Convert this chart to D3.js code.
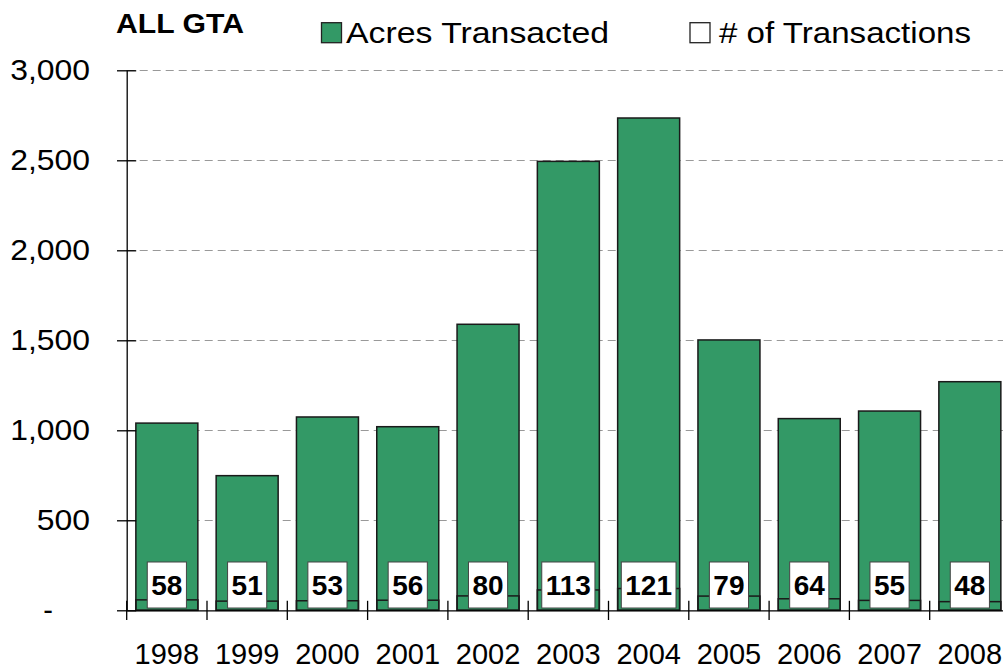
<!DOCTYPE html>
<html>
<head>
<meta charset="utf-8">
<script src="https://cdn.jsdelivr.net/npm/d3@7"></script>
<style>
  body { margin: 0; background: #fff; }
  svg { display: block; font-family: "Liberation Sans", Arial, sans-serif; }
</style>
</head>
<body>
<script>
var w = 1003;
var h = 669;

var years = ["1998", "1999", "2000", "2001", "2002", "2003", "2004", "2005", "2006", "2007", "2008"];
var acres = [1040, 748, 1074, 1020, 1589, 2494, 2735, 1502, 1065, 1107, 1270];
var transactions = [58, 51, 53, 56, 80, 113, 121, 79, 64, 55, 48];
var yTicks = [0, 500, 1000, 1500, 2000, 2500, 3000];

var green = "#339966";
var plotLeft = 126.7, plotRight = 1010, plotTop = 70.3, plotBottom = 610.3;

var dataset = years.map((d, i) => ({ year: d, acres: acres[i], count: transactions[i] }));

var xScale = d3.scaleBand()
    .domain(years)
    .range([plotLeft, plotRight])
    .paddingInner(0.228)
    .paddingOuter(0.114);

var yScale = d3.scaleLinear()
    .domain([0, 3000])
    .range([plotBottom, plotTop]);

var fmt = d3.format(",");

var svg = d3.select("body")
    .append("svg")
    .attr("width", w)
    .attr("height", h);

// gridlines
svg.selectAll("line.grid")
    .data(yTicks.filter(d => d > 0))
    .enter()
    .append("line")
    .attr("class", "grid")
    .attr("x1", plotLeft)
    .attr("x2", w)
    .attr("y1", d => Math.round(yScale(d)) + 0.5)
    .attr("y2", d => Math.round(yScale(d)) + 0.5)
    .attr("stroke", "#999")
    .attr("stroke-width", 1.2)
    .attr("stroke-dasharray", "8,5");

// acres bars
svg.selectAll("rect.acres")
    .data(dataset)
    .enter()
    .append("rect")
    .attr("class", "acres")
    .attr("x", d => xScale(d.year))
    .attr("y", d => yScale(d.acres))
    .attr("width", xScale.bandwidth())
    .attr("height", d => plotBottom - yScale(d.acres))
    .attr("fill", green)
    .attr("stroke", "#1a1a1a")
    .attr("stroke-width", 1.5);

// transactions bars (same scale, tiny)
svg.selectAll("rect.count")
    .data(dataset)
    .enter()
    .append("rect")
    .attr("class", "count")
    .attr("x", d => xScale(d.year))
    .attr("y", d => yScale(d.count))
    .attr("width", xScale.bandwidth())
    .attr("height", d => plotBottom - yScale(d.count))
    .attr("fill", "none")
    .attr("stroke", "#1a1a1a")
    .attr("stroke-width", 1.5);

// labels in white boxes
var labels = svg.selectAll("g.lab")
    .data(dataset)
    .enter()
    .append("g")
    .attr("class", "lab")
    .attr("transform", d => `translate(${xScale(d.year) + xScale.bandwidth() / 2},0)`);

labels.append("rect")
    .attr("y", 562)
    .attr("height", 46)
    .attr("fill", "#fff")
    .attr("stroke", "#444")
    .attr("stroke-width", 1);

labels.append("text")
    .attr("y", 595)
    .attr("text-anchor", "middle")
    .attr("font-size", "28px")
    .attr("font-weight", "bold")
    .attr("fill", "#000")
    .text(d => d.count);

labels.each(function() {
    var g = d3.select(this);
    var tw = g.select("text").node().getComputedTextLength() + 8;
    g.select("rect").attr("x", -tw / 2).attr("width", tw);
});

// y axis
var yAxis = d3.axisLeft()
    .scale(yScale)
    .tickValues(yTicks)
    .tickSize(9.7)
    .tickSizeOuter(0)
    .tickPadding(27)
    .tickFormat(d => d === 0 ? "-" : fmt(d));

var gy = svg.append("g")
    .attr("transform", `translate(${plotLeft},0)`)
    .call(yAxis);
gy.selectAll(".tick line").attr("x1", 9.5).attr("stroke", "#000").attr("stroke-width", 1.3);
gy.select(".domain").attr("stroke", "#000").attr("stroke-width", 1.3);
gy.selectAll(".tick text")
    .attr("font-size", "29px")
    .attr("font-family", "Liberation Sans, Arial, sans-serif")
    .attr("fill", "#000");
gy.selectAll(".tick text").filter(d => d === 0).attr("x", 53 - plotLeft);
gy.selectAll(".tick text").filter(d => d > 0).each(function() {
    var len = this.getComputedTextLength();
    d3.select(this)
        .attr("textLength", len * 1.1)
        .attr("lengthAdjust", "spacingAndGlyphs");
});

// x axis
var xAxis = d3.axisBottom()
    .scale(xScale)
    .tickSize(0)
    .tickSizeOuter(0)
    .tickPadding(33);

var gx = svg.append("g")
    .attr("transform", `translate(0,${plotBottom})`)
    .call(xAxis);
gx.select(".domain").attr("stroke", "#000").attr("stroke-width", 1.3);
gx.selectAll(".tick text")
    .attr("font-size", "29px")
    .attr("font-family", "Liberation Sans, Arial, sans-serif")
    .attr("fill", "#000");

// category boundary ticks
var step = xScale.step();
var bounds = years.map(d => xScale(d) - (step - xScale.bandwidth()) / 2);
bounds.push(bounds[bounds.length - 1] + step);
gx.selectAll("line.bound")
    .data(bounds)
    .enter()
    .append("line")
    .attr("class", "bound")
    .attr("x1", d => d)
    .attr("x2", d => d)
    .attr("y1", -9.5)
    .attr("y2", 9.7)
    .attr("stroke", "#000")
    .attr("stroke-width", 1.3);

// title
svg.append("text")
    .attr("x", 116)
    .attr("y", 33)
    .attr("font-size", "27px")
    .attr("font-weight", "bold")
    .attr("textLength", 128)
    .attr("lengthAdjust", "spacingAndGlyphs")
    .text("ALL GTA");

// legend
var legendItems = [
    { label: "Acres Transacted", fill: green, x: 321.5, len: 263 },
    { label: "# of Transactions", fill: "#fff", x: 690, len: 252 }
];
var lg = svg.selectAll("g.legend")
    .data(legendItems)
    .enter()
    .append("g")
    .attr("class", "legend")
    .attr("transform", d => `translate(${d.x},0)`);
lg.append("rect")
    .attr("x", 0)
    .attr("y", 22.7)
    .attr("width", 20)
    .attr("height", 20)
    .attr("fill", d => d.fill)
    .attr("stroke", "#222")
    .attr("stroke-width", 1.3);
lg.append("text")
    .attr("x", d => d.fill === "#fff" ? 29 : 24.5)
    .attr("y", 42.7)
    .attr("font-size", "30px")
    .attr("textLength", d => d.len)
    .attr("lengthAdjust", "spacingAndGlyphs")
    .text(d => d.label);
</script>
</body>
</html>
